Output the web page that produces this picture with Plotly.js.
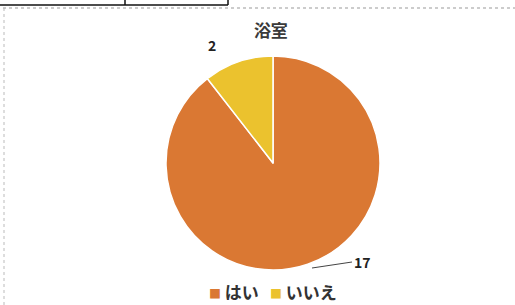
<!DOCTYPE html>
<html>
<head>
<meta charset="utf-8">
<script src="https://cdn.plot.ly/plotly-3.0.1.min.js"></script>
<style>html,body{margin:0;padding:0;background:#fff;}#chart{width:515px;height:305px;}</style>
</head>
<body>
<div id="chart"></div>
<script>
var categories = ['はい', 'いいえ'];
var values = [17, 2];
var colors = ['#DA7833', '#EBC22E'];
var chartTitle = '浴室';

var trace = {
  type: 'pie',
  labels: categories,
  values: values,
  sort: false,
  direction: 'clockwise',
  rotation: 0,
  textinfo: 'none',
  hoverinfo: 'label+value',
  marker: {colors: colors, line: {color: '#ffffff', width: 1.5}},
  domain: {x: [0.3223, 0.7379], y: [0.1148, 0.8164]}
};

var font = "'Noto Sans CJK JP', 'Noto Sans', sans-serif";
var legendX = [207, 268];
var legendAnn = categories.map(function (c, i) {
  return {
    xref: 'paper', yref: 'paper', x: legendX[i] / 515, y: 1 - 291 / 305,
    xanchor: 'left', yanchor: 'middle', showarrow: false,
    text: '<span style="color:' + colors[i] + ';font-size:12px">■</span> ' + c,
    font: {family: font, size: 17, color: '#333', weight: 'bold'}
  };
});

var layout = {
  width: 515, height: 305,
  margin: {l: 0, r: 0, t: 0, b: 0, autoexpand: false},
  paper_bgcolor: '#ffffff',
  showlegend: false,
  title: {text: '<b>' + chartTitle + '</b>', font: {family: font, size: 17, color: '#3a3a3a'}, x: 0.526, xanchor: 'center', y: 0.898, yanchor: 'middle'},
  annotations: [
    {xref: 'paper', yref: 'paper', x: 312/515, y: 1 - 268/305, text: '<b>' + values[0] + '</b>', showarrow: true, arrowhead: 0, arrowwidth: 1, arrowcolor: '#444', ax: 40, ay: -6, xanchor: 'left', font: {family: font, size: 14, color: '#222'}},
    {xref: 'paper', yref: 'paper', x: 212/515, y: 1 - 45/305, yanchor: 'middle', xanchor: 'center', text: '<b>' + values[1] + '</b>', showarrow: false, font: {family: font, size: 14, color: '#222'}}
  ].concat(legendAnn),
  shapes: [
    {type: 'line', xref: 'paper', yref: 'paper', x0: 0, x1: 228/515, y0: 1 - 5/305, y1: 1 - 5/305, line: {color: '#111', width: 1.5}},
    {type: 'line', xref: 'paper', yref: 'paper', x0: 125/515, x1: 125/515, y0: 1, y1: 1 - 5/305, line: {color: '#111', width: 1.5}},
    {type: 'line', xref: 'paper', yref: 'paper', x0: 228/515, x1: 228/515, y0: 1, y1: 1 - 5/305, line: {color: '#111', width: 1.5}},
    {type: 'line', xref: 'paper', yref: 'paper', x0: 3/515, x1: 1, y0: 1 - 8/305, y1: 1 - 8/305, line: {color: '#999', width: 1, dash: 'dot'}},
    {type: 'line', xref: 'paper', yref: 'paper', x0: 4/515, x1: 4/515, y0: 0, y1: 1 - 8/305, line: {color: '#bbb', width: 1, dash: 'dot'}}
  ]
};

Plotly.newPlot('chart', [trace], layout, {displayModeBar: false, staticPlot: true});
</script>
</body>
</html>
